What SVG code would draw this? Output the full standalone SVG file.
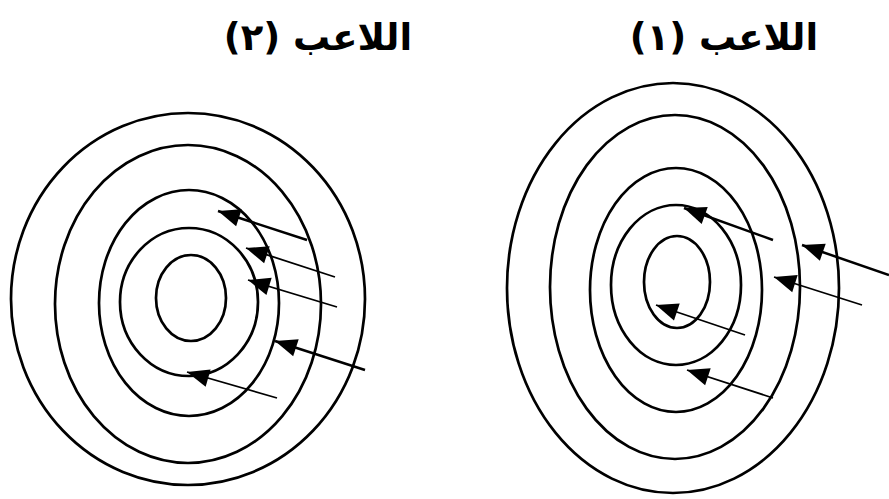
<svg xmlns="http://www.w3.org/2000/svg" width="889" height="499" viewBox="0 0 889 499">
<style>
.ring{fill:none;stroke:#000;stroke-width:2.7}
.arr{stroke:#000;stroke-width:1.8;fill:none;marker-end:url(#ah)}
.thick{stroke-width:2.5}
.title{font-family:"DejaVu Sans",sans-serif;font-weight:bold;font-size:37px;fill:#000;text-anchor:middle}
</style>
<defs>
<marker id="ah" markerUnits="userSpaceOnUse" markerWidth="24" markerHeight="20" refX="22" refY="9" orient="auto" overflow="visible">
<path d="M0,0 L22,9 L0,18 z" fill="#000"/>
</marker>
</defs>
<g id="title-2"><text class="title" x="318" y="50" direction="rtl">اللاعب (٢)</text></g>
<g id="title-1"><text class="title" x="724" y="50" direction="rtl">اللاعب (١)</text></g>
<g id="target-2">
<ellipse class="ring" cx="188" cy="299" rx="177" ry="186"/>
<ellipse class="ring" cx="188" cy="304" rx="133" ry="159"/>
<ellipse class="ring" cx="189" cy="303" rx="90" ry="113"/>
<ellipse class="ring" cx="189" cy="302" rx="69" ry="74"/>
<ellipse class="ring" cx="191" cy="298" rx="35" ry="43"/>
</g>
<g id="target-1">
<ellipse class="ring" cx="673" cy="288" rx="166" ry="205"/>
<ellipse class="ring" cx="675" cy="287" rx="125" ry="172"/>
<ellipse class="ring" cx="676" cy="290" rx="86" ry="122"/>
<ellipse class="ring" cx="676" cy="285" rx="65" ry="80"/>
<ellipse class="ring" cx="677" cy="282" rx="33" ry="46"/>
</g>
<g id="connectors">
<line class="arr thick" x1="307" y1="240" x2="218" y2="211"/>
<line class="arr" x1="335" y1="277" x2="246" y2="248"/>
<line class="arr" x1="337" y1="307" x2="248" y2="280"/>
<line class="arr thick" x1="365" y1="370" x2="275" y2="341"/>
<line class="arr" x1="277" y1="398" x2="187" y2="372"/>
<line class="arr thick" x1="773" y1="240" x2="684" y2="208"/>
<line class="arr thick" x1="889" y1="275" x2="802" y2="245"/>
<line class="arr" x1="862" y1="305" x2="774" y2="277"/>
<line class="arr" x1="745" y1="335" x2="656" y2="305"/>
<line class="arr" x1="773" y1="398" x2="687" y2="370"/>
</g>
</svg>
